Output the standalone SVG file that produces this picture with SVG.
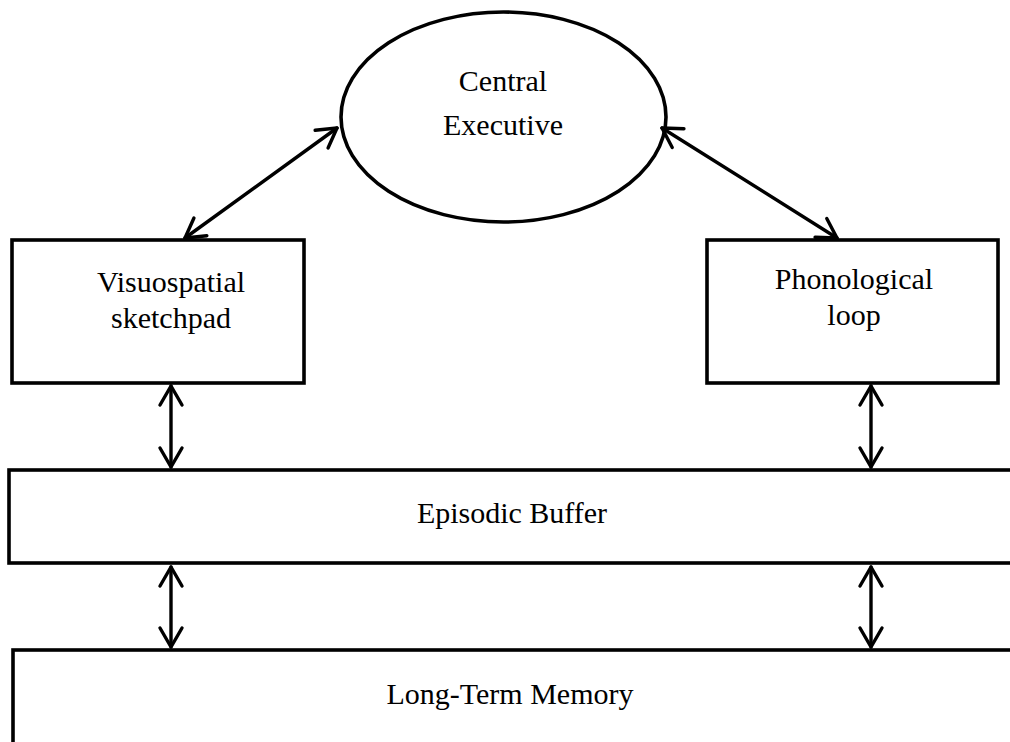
<svg xmlns="http://www.w3.org/2000/svg" width="1010" height="742" viewBox="0 0 1010 742">
<style>
.shape{fill:#fff;stroke:#000;stroke-width:3.6}
.lbl{font-family:"Liberation Serif","Times New Roman",serif;font-size:30px;fill:#000;text-anchor:middle}
.conn{stroke:#000;stroke-width:3.4;fill:none;stroke-linecap:round}
</style>
<defs>
<marker id="ah" viewBox="-24 -14 28 28" refX="0" refY="0" markerWidth="28" markerHeight="28" markerUnits="userSpaceOnUse" orient="auto-start-reverse">
<path d="M-19,-11 L0,0 L-19,11" fill="none" stroke="#000" stroke-width="3.4" stroke-linecap="round" stroke-linejoin="round"/>
</marker>
</defs>
<rect width="1010" height="742" fill="#fff"/>
<g id="central-executive">
<ellipse class="shape" cx="503.5" cy="117" rx="162.5" ry="105"/>
<text class="lbl" x="503" y="91">Central</text>
<text class="lbl" x="503" y="135">Executive</text>
</g>
<g id="visuospatial-sketchpad">
<rect class="shape" x="12" y="240" width="292" height="143"/>
<text class="lbl" x="171" y="292">Visuospatial</text>
<text class="lbl" x="171" y="328">sketchpad</text>
</g>
<g id="phonological-loop">
<rect class="shape" x="707" y="240" width="291" height="143"/>
<text class="lbl" x="854" y="289">Phonological</text>
<text class="lbl" x="854" y="325">loop</text>
</g>
<g id="episodic-buffer">
<rect class="shape" x="9" y="470" width="1010" height="93"/>
<text class="lbl" x="512" y="523">Episodic Buffer</text>
</g>
<g id="long-term-memory">
<rect class="shape" x="13" y="650" width="1010" height="100"/>
<text class="lbl" x="510" y="704">Long-Term Memory</text>
</g>
<g id="connectors">
<line class="conn" x1="337" y1="128" x2="185" y2="238" marker-start="url(#ah)" marker-end="url(#ah)"/>
<line class="conn" x1="662" y1="128" x2="837" y2="238" marker-start="url(#ah)" marker-end="url(#ah)"/>
<line class="conn" x1="171" y1="386" x2="171" y2="467" marker-start="url(#ah)" marker-end="url(#ah)"/>
<line class="conn" x1="871" y1="386" x2="871" y2="467" marker-start="url(#ah)" marker-end="url(#ah)"/>
<line class="conn" x1="171" y1="567" x2="171" y2="647" marker-start="url(#ah)" marker-end="url(#ah)"/>
<line class="conn" x1="871" y1="567" x2="871" y2="647" marker-start="url(#ah)" marker-end="url(#ah)"/>
</g>
</svg>
